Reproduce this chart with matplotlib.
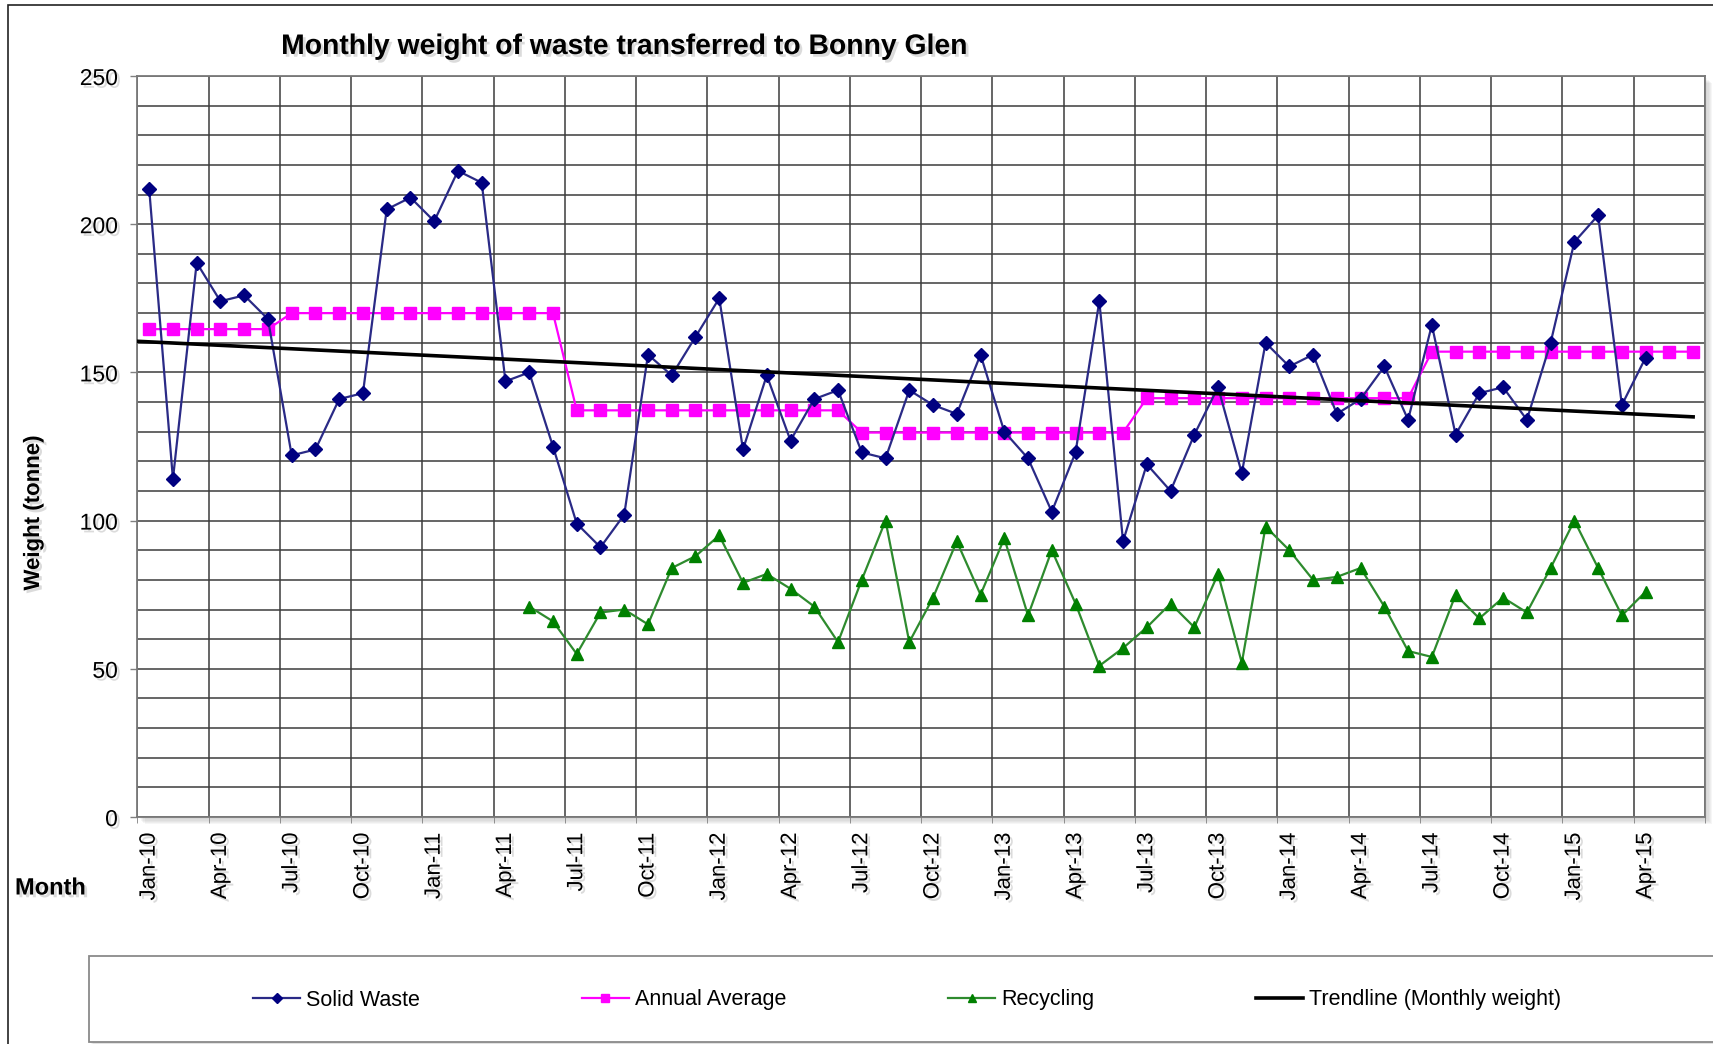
import numpy as np
import matplotlib
matplotlib.use("Agg")
import matplotlib.pyplot as plt
from matplotlib.patches import Rectangle
from matplotlib import patheffects as pe

plt.rcParams['font.family'] = ['Liberation Sans', 'DejaVu Sans']

# ---------------- data ----------------
tick_labels = ["Jan-10", "Apr-10", "Jul-10", "Oct-10", "Jan-11", "Apr-11", "Jul-11", "Oct-11",
               "Jan-12", "Apr-12", "Jul-12", "Oct-12", "Jan-13", "Apr-13", "Jul-13", "Oct-13",
               "Jan-14", "Apr-14", "Jul-14", "Oct-14", "Jan-15", "Apr-15"]
n_months = 66  # Jan-10 .. Jun-15

solid_waste = [212, 114, 187, 174, 176, 168, 122, 124, 141, 143, 205, 209,   # 2010
               201, 218, 214, 147, 150, 125, 99, 91, 102, 156, 149, 162,     # 2011
               175, 124, 149, 127, 141, 144, 123, 121, 144, 139, 136, 156,   # 2012
               130, 121, 103, 123, 174, 93, 119, 110, 129, 145, 116, 160,    # 2013
               152, 156, 136, 141, 152, 134, 166, 129, 143, 145, 134, 160,   # 2014
               194, 203, 139, 155]                                           # 2015 (Jan-Apr)

recycling_start = 16  # May-11
recycling = [71, 66, 55, 69, 70, 65, 84, 88,                                  # May-Dec 2011
             95, 79, 82, 77, 71, 59, 80, 100, 59, 74, 93, 75,                 # 2012
             94, 68, 90, 72, 51, 57, 64, 72, 64, 82, 52, 98,                  # 2013
             90, 80, 81, 84, 71, 56, 54, 75, 67, 74, 69, 84,                  # 2014
             100, 84, 68, 76]                                                 # 2015 (Jan-Apr)

annual_average = [164.6, 170.0, 137.2, 129.7, 141.3, 157.0]
annual_period_months = [6, 12, 12, 12, 12, 12]

# trendline (monthly weight): value at start (left edge) and at Jun-15
trend_values = [160.5, 135.0]

# ---------------- figure ----------------
W, H = 1713, 1044
fig = plt.figure(figsize=(W / 100, H / 100), dpi=100)
fig.patch.set_facecolor('white')

left_px, right_px, top_px, bottom_px = 137.3, 1705, 76, 817
axL = left_px / W
axB = 1 - bottom_px / H
axW = (right_px - left_px) / W
axH = (bottom_px - top_px) / H
ax = fig.add_axes([axL, axB, axW, axH])

# plot-area shadow
for k in range(1, 7):
    fig.patches.append(Rectangle((axL + k * 1.2 / W, axB - k * 1.2 / H), axW, axH,
                                 transform=fig.transFigure, facecolor='#808080',
                                 edgecolor='none', alpha=0.07, zorder=-2))

x_sw = np.arange(len(solid_waste))
x_rc = np.arange(recycling_start, recycling_start + len(recycling))
avg_series = np.repeat(annual_average, annual_period_months)
x_avg = np.arange(len(avg_series))

ax.plot(x_sw, solid_waste, color='#2a2a86', lw=1.6, marker='D', ms=7.5,
        mfc='#000080', mec='#000080', label='Solid Waste', zorder=5)
ax.plot(x_avg, avg_series, color='#ff00ff', lw=1.6, marker='s', ms=9,
        mfc='#ff00ff', mec='#ff00ff', label='Annual Average', zorder=4)
ax.plot(x_rc, recycling, color='#2e8b2e', lw=1.6, marker='^', ms=9,
        mfc='#008000', mec='#008000', label='Recycling', zorder=4)

xt = [-0.5, n_months - 1]
ax.plot(xt, trend_values, color='black', lw=2.6,
        label='Trendline (Monthly weight)', zorder=6)

# axes
ax.set_xlim(-0.5, n_months - 0.5)
ax.set_ylim(0, 250)
ax.set_yticks(np.arange(0, 251, 50))
ax.set_yticks(np.arange(0, 251, 10), minor=True)
ax.set_xticks(np.arange(0, 3 * len(tick_labels), 3))
ax.set_xticklabels(tick_labels, rotation=90, fontsize=16)
ax.set_xticks(np.arange(-0.5, n_months, 3), minor=True)

ax.grid(which='both', axis='y', color='#3c3c3c', lw=1.1, zorder=1)
ax.grid(which='minor', axis='x', color='#3c3c3c', lw=1.1, zorder=1)
ax.set_axisbelow(True)

ax.tick_params(axis='y', which='major', labelsize=16.5, length=5, width=1,
               color='#808080', pad=9, direction='out')
ax.tick_params(axis='y', which='minor', length=0)
ax.tick_params(axis='x', which='major', length=0, pad=11)
ax.tick_params(axis='x', which='minor', length=4, color='#808080', direction='out')

for sp in ax.spines.values():
    sp.set_color('#7a7a7a')
    sp.set_linewidth(1.3)

shadow = [pe.withSimplePatchShadow(offset=(2, -2), shadow_rgbFace='#9a9a9a', alpha=0.35)]
for lbl in ax.get_xticklabels() + ax.get_yticklabels():
    lbl.set_path_effects(shadow)

ax.set_ylabel('Weight (tonne)', fontsize=16, fontweight='bold', path_effects=shadow)
ax.yaxis.set_label_coords(-0.0595, 0.41)

fig.text(625 / W, 1 - 47 / H, 'Monthly weight of waste transferred to Bonny Glen',
         ha='center', va='center', fontsize=20.4, fontweight='bold', path_effects=shadow)
fig.text(15 / W, 1 - 888 / H, 'Month', ha='left', va='center', fontsize=17,
         fontweight='bold', path_effects=shadow)

# legend box
lb_bottom, lb_top = 1 - 1042 / H, 1 - 956 / H
for k in range(1, 5):
    fig.patches.append(Rectangle((89 / W + k * 1.0 / W, lb_bottom - k * 1.0 / H), 1.2, lb_top - lb_bottom,
                                 transform=fig.transFigure, facecolor='#808080',
                                 edgecolor='none', alpha=0.08, zorder=-2))
fig.patches.append(Rectangle((89 / W, lb_bottom), 1.2, lb_top - lb_bottom,
                             transform=fig.transFigure, facecolor='white',
                             edgecolor='#8a8a8a', lw=1.3, zorder=-1))

handles, labels = ax.get_legend_handles_labels()
fig.legend(handles, labels, loc='center left', bbox_to_anchor=(253 / W, 1 - 1000 / H),
           ncol=4, frameon=False, fontsize=15.5, handlelength=2.2, handletextpad=0.28,
           columnspacing=7.5, borderpad=0, borderaxespad=0, numpoints=1, markerscale=0.7)

# outer chart border (left and top visible)
fig.patches.append(Rectangle((8 / W, -0.1), 1.2, 1 - 5 / H + 0.1, transform=fig.transFigure,
                             fill=False, edgecolor='#222222', lw=1.2, zorder=-3))

fig.savefig('out.png', dpi=100)
